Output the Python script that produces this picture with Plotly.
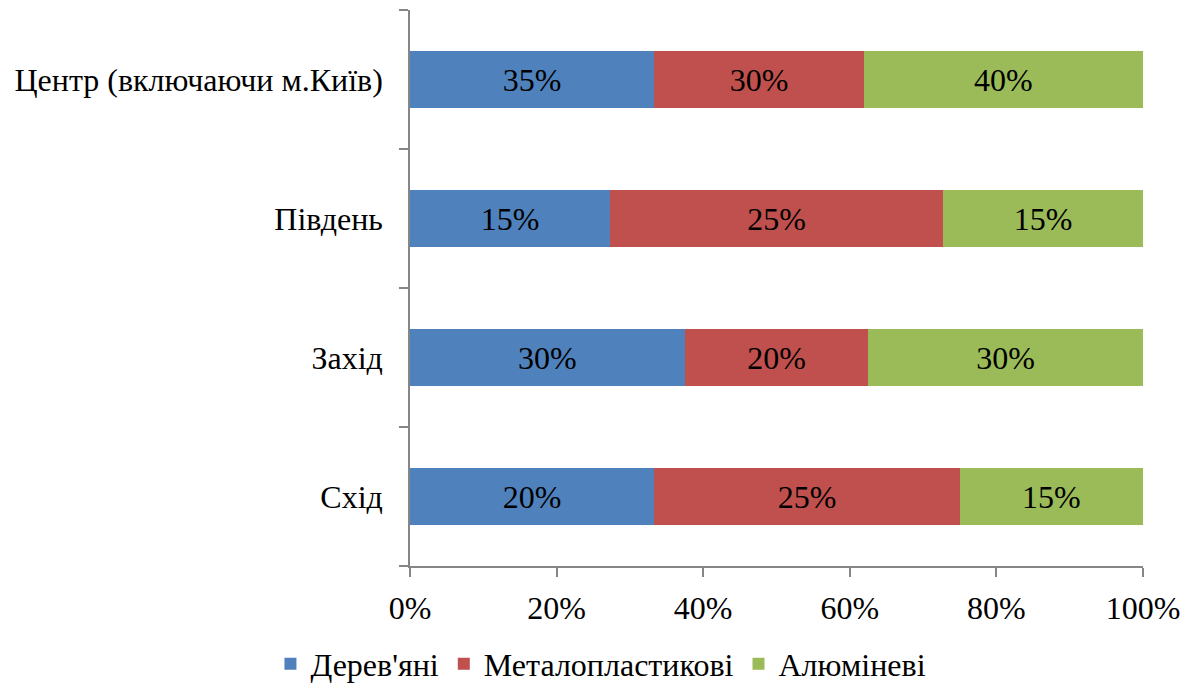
import plotly.graph_objects as go

regions = ["Схід", "Захід", "Південь", "Центр (включаючи м.Київ)"]
series_names = ["Дерев'яні", "Металопластикові", "Алюміневі"]
wood = [20, 30, 15, 35]
metal = [25, 20, 25, 30]
alu = [15, 30, 15, 40]
colors = ["#4F81BD", "#C0504D", "#9BBB59"]
x_ticks = [0, 20, 40, 60, 80, 100]

font_family = "Liberation Serif"
FS = 32
fig = go.Figure()
for name, vals, col in zip(series_names, [wood, metal, alu], colors):
    fig.add_trace(go.Bar(
        y=regions, x=vals, name=name, orientation="h",
        marker=dict(color=col, line=dict(width=0)),
        text=[f"{v}%" for v in vals], textposition="inside",
        insidetextanchor="middle", textangle=0,
        textfont=dict(family=font_family, size=FS, color="black"),
        hoverinfo="skip",
    ))

fig.update_layout(
    barmode="stack", barnorm="percent", bargap=0.595,
    width=1190, height=683,
    margin=dict(l=410, r=47, t=10, b=117),
    plot_bgcolor="white", paper_bgcolor="white",
    font=dict(family=font_family, size=FS, color="black"),
    uniformtext=dict(minsize=10, mode="show"),
    legend=dict(orientation="h", xref="container", yref="container",
                x=0.505, xanchor="center", y=0.028, yanchor="middle",
                traceorder="normal", font=dict(family=font_family, size=FS),
                itemwidth=30, itemsizing="constant"),
    showlegend=True,
)
fig.update_xaxes(
    range=[0, 100], tickvals=x_ticks, ticktext=[f"{t}%" for t in x_ticks],
    showline=True, linecolor="#868686", linewidth=1.5,
    ticks="outside", ticklen=9, tickcolor="#868686", tickwidth=1.5,
    showgrid=False, zeroline=False, fixedrange=True,
    tickfont=dict(family=font_family, size=FS), ticklabelstandoff=4,
)
fig.update_yaxes(
    showline=True, linecolor="#868686", linewidth=1.5,
    ticks="outside", ticklen=9, tickcolor="#868686", tickwidth=1.5,
    tickson="boundaries", showgrid=False, ticklabelstandoff=19,
    tickfont=dict(family=font_family, size=FS),
)
fig.write_html("out.html")
